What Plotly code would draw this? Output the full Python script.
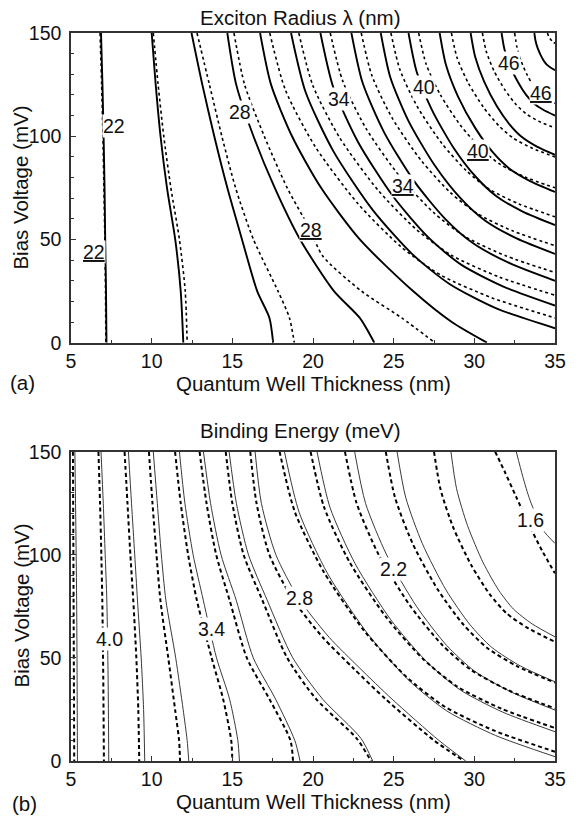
import plotly.graph_objects as go

# ---------------- Panel (a): exciton radius (nm) ----------------
radius_levels = [22, 24, 26, 28, 30, 32, 34, 36, 38, 40, 42, 44, 46, 48]

# solid contours: well thickness (nm) and bias (mV) along each line
radius_solid_x = [
    [6.86, 6.95, 7.02, 7.08, 7.12, 7.17, 7.2],
    [10.0, 10.25, 10.55, 10.95, 11.46, 11.8, 11.96],
    [12.47, 13.14, 13.88, 14.69, 15.6, 16.54, 17.3, 17.53],
    [14.69, 15.24, 16.31, 17.63, 19.2, 21.3, 22.9, 23.8],
    [16.72, 17.4, 18.7, 20.5, 22.9, 26.2, 28.6, 30.78],
    [18.64, 19.54, 21.26, 23.71, 26.17, 28.46, 31.4, 35.0],
    [20.46, 21.26, 22.79, 24.97, 27.15, 29.18, 31.8, 35.0],
    [22.38, 23.07, 24.4, 26.29, 28.19, 29.95, 32.22, 35.0],
    [24.2, 24.79, 25.93, 27.55, 29.17, 30.68, 32.62, 35.0],
    [25.92, 26.42, 27.37, 28.73, 30.1, 31.37, 33.0, 35.0],
    [27.85, 28.24, 28.99, 30.07, 31.14, 32.14, 33.43, 35.0],
    [29.77, 30.06, 30.61, 31.39, 32.18, 32.91, 33.85, 35.0],
    [31.69, 31.87, 32.22, 32.72, 33.21, 33.68, 34.27, 35.0],
    [33.72, 33.79, 33.92, 34.12, 34.31, 34.49, 34.72, 35.0],
]
radius_solid_v = [
    [150, 125, 100, 75, 50, 25, 0],
    [150, 125, 100, 75, 50, 25, 0],
    [150, 125, 100, 75, 50, 25, 12, 0],
    [150, 125, 100, 75, 50, 25, 12, 0],
    [150, 125, 100, 75, 50, 25, 10, 0],
    [150, 121.4, 92.8, 64.2, 42.75, 28.45, 16.5, 7],
    [150, 123.6, 97.2, 70.8, 51, 37.8, 27.2, 18],
    [150, 126, 102, 78, 60, 48, 38.4, 30],
    [150, 128.6, 107.2, 85.8, 69.75, 59.05, 50.5, 43],
    [150, 131.4, 112.8, 94.2, 80.25, 70.95, 63.5, 57],
    [150, 134.6, 119.2, 103.8, 92.25, 84.55, 78.4, 73],
    [150, 138.2, 126.4, 114.6, 105.75, 99.85, 95.1, 91],
    [150, 142, 134, 126, 120, 116, 112.8, 110],
    [150, 146.4, 142.8, 139.2, 136.5, 134.7, 133.3, 132],
]

# dashed contours
radius_dashed_x = [
    [6.8, 6.9, 6.98, 7.04, 7.1, 7.14, 7.16],
    [10.1, 10.4, 10.75, 11.19, 11.72, 12.08, 12.2],
    [12.81, 13.58, 14.35, 15.2, 16.31, 17.83, 18.54, 18.84],
    [15.1, 15.76, 16.98, 18.4, 19.8, 20.6, 23.0, 25.5, 27.55],
    [17.32, 18.29, 20.15, 22.8, 25.45, 27.93, 31.11, 35.0],
    [19.12, 19.99, 21.66, 24.04, 26.42, 28.65, 31.51, 35.0],
    [21.07, 21.84, 23.3, 25.39, 27.48, 29.43, 31.94, 35.0],
    [22.99, 23.65, 24.91, 26.71, 28.51, 30.2, 32.36, 35.0],
    [24.83, 25.39, 26.46, 27.98, 29.51, 30.93, 32.76, 35.0],
    [26.55, 27.01, 27.9, 29.17, 30.44, 31.62, 33.14, 35.0],
    [28.58, 28.93, 29.61, 30.57, 31.53, 32.43, 33.59, 35.0],
    [30.5, 30.75, 31.22, 31.9, 32.57, 33.2, 34.01, 35.0],
    [32.5, 32.64, 32.9, 33.28, 33.65, 34.0, 34.45, 35.0],
    [34.53, 34.6, 34.72, 34.86, 35.0],
]
radius_dashed_v = [
    [150, 125, 100, 75, 50, 25, 0],
    [150, 125, 100, 75, 50, 25, 0],
    [150, 125, 100, 75, 50, 25, 12, 0],
    [150, 125, 100, 75, 55, 42, 25, 12, 0],
    [150, 122.4, 94.8, 67.2, 46.5, 32.7, 21.7, 12],
    [150, 124.6, 99.2, 73.8, 54.75, 42.05, 31.9, 23],
    [150, 126.8, 103.6, 80.4, 63, 51.4, 42.1, 34],
    [150, 129.4, 108.8, 88.2, 72.75, 62.45, 54.2, 47],
    [150, 132.2, 114.4, 96.6, 83.25, 74.35, 67.2, 61],
    [150, 135, 120, 105, 93.75, 86.25, 80.25, 75],
    [150, 138, 126, 114, 105, 99, 94.2, 90],
    [150, 140.8, 131.6, 122.4, 115.5, 110.9, 107.2, 104],
    [150, 143.2, 136.4, 129.6, 124.5, 121.1, 118.4, 116],
    [150, 148.5, 147, 145.8, 145],
]

radius_label_text = ["22", "28", "34", "40", "46"]
radius_solid_label_x = [7.65, 15.46, 21.63, 26.9, 32.14]
radius_solid_label_v = [105, 111.8, 118, 124, 135.5]
radius_dashed_label_x = [6.45, 19.85, 25.6, 30.2, 34.12]
radius_dashed_label_v = [44, 54.6, 75.8, 93, 121]

# ---------------- Panel (b): binding energy (meV) ----------------
energy_levels = [4.2, 4.0, 3.8, 3.6, 3.4, 3.2, 3.0, 2.8, 2.6, 2.4, 2.2, 2.0, 1.8, 1.6]

energy_solid_x = [
    [5.24, 5.35, 5.4],
    [6.86, 7.0, 7.12, 7.22, 7.3, 7.34],
    [8.56, 8.75, 8.95, 9.12, 9.35, 9.5, 9.57],
    [10.1, 10.35, 10.6, 10.88, 11.49, 11.95, 12.2, 12.3],
    [11.72, 12.06, 12.57, 13.2, 14.02, 14.83, 15.34, 15.44],
    [13.21, 13.65, 14.3, 15.24, 16.3, 17.68, 18.87, 19.2],
    [14.8, 15.25, 16.0, 17.16, 18.75, 20.6, 22.97, 23.7],
    [16.41, 16.8, 17.7, 19.1, 21.0, 22.9, 24.9, 27.8, 29.47],
    [18.23, 19.15, 20.91, 23.43, 25.94, 28.29, 31.31, 35.0],
    [20.25, 21.06, 22.61, 24.82, 27.04, 29.1, 31.76, 35.0],
    [22.58, 23.26, 24.57, 26.43, 28.29, 30.03, 32.27, 35.0],
    [25.21, 25.75, 26.78, 28.24, 29.71, 31.08, 32.85, 35.0],
    [28.55, 28.9, 29.58, 30.55, 31.52, 32.42, 33.58, 35.0],
    [32.6, 33.0, 33.45, 34.26, 35.0],
]
energy_solid_v = [
    [150, 78, 0],
    [150, 125, 100, 78, 40, 0],
    [150, 125, 100, 78, 50, 25, 0],
    [150, 125, 100, 78, 50, 25, 10, 0],
    [150, 125, 100, 78, 50, 30, 10, 0],
    [150, 125, 100, 78, 50, 30, 10, 0],
    [150, 125, 100, 78, 50, 30, 11, 0],
    [150, 125, 100, 79, 60, 45, 30, 10, 0],
    [150, 120.4, 90.8, 61.3, 39.1, 24.3, 12.4, 2.1],
    [150, 122.8, 95.7, 68.5, 48.2, 34.6, 23.7, 14.2],
    [150, 124.9, 99.9, 74.8, 56.0, 43.5, 33.5, 24.7],
    [150, 127.7, 105.4, 83.0, 66.3, 55.1, 46.1, 38.4],
    [150, 132.0, 114.1, 96.1, 82.7, 73.7, 66.5, 60.2],
    [150, 138, 126.5, 112, 105.5],
]

energy_dashed_x = [
    [5.12, 5.16, 5.2],
    [6.7, 6.8, 6.88, 6.94, 7.0, 7.04],
    [8.32, 8.5, 8.68, 8.86, 9.05, 9.17, 9.23],
    [9.83, 10.05, 10.3, 10.54, 11.03, 11.45, 11.7, 11.76],
    [11.45, 11.8, 12.26, 12.8, 13.72, 14.43, 14.93, 15.0],
    [12.97, 13.4, 14.0, 14.83, 15.9, 17.3, 18.6, 18.76],
    [14.59, 15.0, 15.7, 16.86, 18.4, 20.2, 22.7, 23.6],
    [16.11, 16.5, 17.3, 18.7, 20.6, 22.5, 24.5, 27.5, 29.36],
    [17.93, 18.87, 20.66, 23.22, 25.78, 28.17, 31.24, 35.0],
    [19.85, 20.68, 22.27, 24.55, 26.82, 28.94, 31.67, 35.0],
    [21.98, 22.7, 24.06, 26.02, 27.97, 29.79, 32.14, 35.0],
    [24.51, 25.09, 26.19, 27.76, 29.34, 30.8, 32.69, 35.0],
    [27.5, 27.91, 28.7, 29.83, 30.95, 32.0, 33.35, 35.0],
    [31.29, 31.9, 32.6, 33.3, 34.2, 35.0],
]
energy_dashed_v = [
    [150, 78, 0],
    [150, 125, 100, 78, 40, 0],
    [150, 125, 100, 78, 50, 25, 0],
    [150, 125, 100, 78, 50, 25, 10, 0],
    [150, 125, 100, 78, 50, 30, 10, 0],
    [150, 125, 100, 78, 50, 30, 10, 0],
    [150, 125, 100, 78, 50, 30, 11, 0],
    [150, 125, 100, 79, 60, 45, 30, 10, 0],
    [150, 120.9, 91.8, 62.7, 40.9, 26.3, 14.7, 4.5],
    [150, 123.2, 96.4, 69.6, 49.5, 36.1, 25.4, 16],
    [150, 125.1, 100.2, 75.3, 56.6, 44.2, 34.2, 25.5],
    [150, 127.6, 105.2, 82.8, 66, 54.8, 45.8, 38],
    [150, 131.6, 113.1, 94.7, 80.9, 71.6, 64.3, 57.8],
    [150, 140, 128, 116, 102, 91],
]

energy_label_text = ["4.0", "3.4", "2.8", "2.2", "1.6"]
energy_label_x = [7.4, 13.68, 19.15, 25.01, 33.51]
energy_label_v = [59.3, 64, 79, 92.9, 117]

x_ticks = [5, 10, 15, 20, 25, 30, 35]
v_ticks = [0, 50, 100, 150]

FONT = "Arial, 'Liberation Sans', Helvetica, sans-serif"
INK = "#111111"

fig = go.Figure()


def add_family(xs, vs, levels, xa, ya, color, width, dash):
    for lvl, x, v in zip(levels, xs, vs):
        fig.add_trace(go.Scatter(
            x=x, y=v, mode="lines", name=str(lvl),
            line=dict(color=color, width=width, dash=dash,
                      shape="spline", smoothing=0.7),
            xaxis=xa, yaxis=ya, showlegend=False, hoverinfo="skip"))


# panel (a)
add_family(radius_solid_x, radius_solid_v, radius_levels, "x", "y",
           "#000000", 1.9, "solid")
add_family(radius_dashed_x, radius_dashed_v, radius_levels, "x", "y",
           "#000000", 1.6, "3px,3px")
# panel (b)
add_family(energy_solid_x, energy_solid_v, energy_levels, "x2", "y2",
           "#3a3a3a", 1.0, "solid")
add_family(energy_dashed_x, energy_dashed_v, energy_levels, "x2", "y2",
           "#000000", 2.0, "4px,3px")

annotations = []


def contour_label(text, x, v, xr, yr):
    annotations.append(dict(
        text=text, x=x, y=v, xref=xr, yref=yr, showarrow=False,
        font=dict(family=FONT, size=19.5, color=INK),
        bgcolor="white", borderpad=0, xanchor="center", yanchor="middle"))


for t, x, v in zip(radius_label_text, radius_solid_label_x, radius_solid_label_v):
    contour_label(t, x, v, "x", "y")
for t, x, v in zip(radius_label_text, radius_dashed_label_x, radius_dashed_label_v):
    contour_label("<u>" + t + "</u>", x, v, "x", "y")
for t, x, v in zip(energy_label_text, energy_label_x, energy_label_v):
    contour_label(t, x, v, "x2", "y2")


def paper_text(text, x, y, size=20.5, angle=0):
    annotations.append(dict(
        text=text, x=x, y=y, xref="paper", yref="paper", showarrow=False,
        font=dict(family=FONT, size=size, color=INK), textangle=angle,
        xanchor="center", yanchor="middle"))


paper_text("Exciton Radius \u03bb (nm)", 0.4737, 1.0213)
paper_text("Binding Energy (meV)", 0.4737, 0.4533)
paper_text("Quantum Well Thickness (nm)", 0.5, 0.5179)
paper_text("Quantum Well Thickness (nm)", 0.5, -0.0563)
paper_text("Bias Voltage (mV)", -0.1043, 0.787, angle=-90)
paper_text("Bias Voltage (mV)", -0.1043, 0.2129, angle=-90)
paper_text("(a)", -0.1002, 0.5206)
paper_text("(b)", -0.097, -0.0577)

axis_common = dict(
    showline=True, linecolor="#333333", linewidth=1.5, mirror=True,
    ticks="inside", ticklen=5, tickwidth=1, tickcolor="#333333",
    showgrid=False, zeroline=False,
    tickfont=dict(family=FONT, size=19.5, color=INK),
)
x_common = dict(axis_common, range=[5, 35], tickvals=x_ticks,
                minor=dict(ticks="inside", ticklen=3, dtick=2.5, tick0=5,
                           tickcolor="#333333", showgrid=False))
v_common = dict(axis_common, range=[0, 150], tickvals=v_ticks,
                ticklabelstandoff=4,
                minor=dict(ticks="inside", ticklen=3, dtick=10, tick0=0,
                           tickcolor="#333333", showgrid=False))

fig.update_layout(
    width=578, height=822, autosize=False,
    margin=dict(l=71, r=13, t=33, b=61),
    paper_bgcolor="white", plot_bgcolor="white",
    showlegend=False,
    xaxis=dict(x_common, domain=[0, 1], anchor="y"),
    yaxis=dict(v_common, domain=[0.5746, 1], anchor="x"),
    xaxis2=dict(x_common, domain=[0, 1], anchor="y2"),
    yaxis2=dict(v_common, domain=[0, 0.4249], anchor="x2"),
    annotations=annotations,
)

fig.write_html("out.html")
